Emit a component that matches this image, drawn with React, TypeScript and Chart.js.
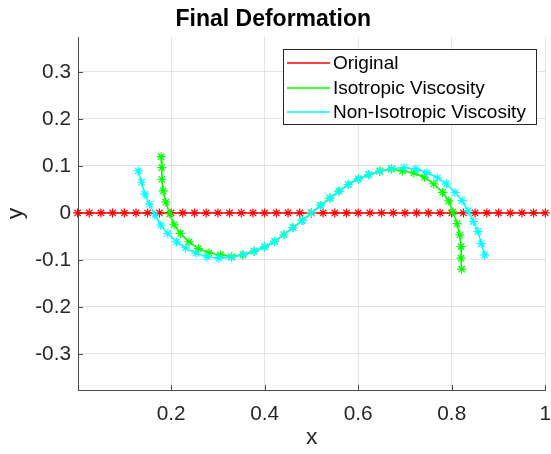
import React, { useEffect, useRef } from "react";
import { Chart, registerables } from "chart.js";

Chart.register(...registerables);

const FONT = '"Liberation Sans", Arial, Helvetica, sans-serif';
const AXIS_COLOR = "#4d4d4d";
const TEXT_COLOR = "#262626";
const GRID_COLOR = "rgba(38,38,38,0.13)";

const TITLE = "Final Deformation";
const X_LABEL = "x";
const Y_LABEL = "y";

const SERIES_LABELS = ["Original", "Isotropic Viscosity", "Non-Isotropic Viscosity"];
const SERIES_COLORS = ["#ff0000", "#00ff00", "#00ffff"];

const ORIGINAL_X = [
  0, 0.025, 0.05, 0.075, 0.1, 0.125, 0.15, 0.175, 0.2, 0.225, 0.25, 0.275, 0.3, 0.325,
  0.35, 0.375, 0.4, 0.425, 0.45, 0.475, 0.5, 0.525, 0.55, 0.575, 0.6, 0.625, 0.65, 0.675,
  0.7, 0.725, 0.75, 0.775, 0.8, 0.825, 0.85, 0.875, 0.9, 0.925, 0.95, 0.975, 1,
];
const ORIGINAL_Y = [
  0, 0, 0, 0, 0, 0, 0, 0, 0, 0, 0, 0, 0, 0, 0, 0, 0, 0, 0, 0, 0,
  0, 0, 0, 0, 0, 0, 0, 0, 0, 0, 0, 0, 0, 0, 0, 0, 0, 0, 0, 0,
];

const ISO_X = [
  0.1787, 0.1802, 0.1802, 0.1829, 0.1887, 0.1972, 0.2064, 0.2196, 0.2384, 0.2584, 0.281,
  0.3053, 0.3294, 0.3535, 0.3774, 0.3998, 0.4211, 0.441, 0.4605, 0.4803, 0.5, 0.5197,
  0.5395, 0.559, 0.5789, 0.6002, 0.6226, 0.6465, 0.6706, 0.6947, 0.719, 0.7416, 0.7616,
  0.7804, 0.7936, 0.8028, 0.8113, 0.8171, 0.8198, 0.8198, 0.8213,
];
const ISO_Y = [
  0.1198, 0.0964, 0.0717, 0.0468, 0.0228, -0.002, -0.0255, -0.0436, -0.0617, -0.076, -0.0851,
  -0.0894, -0.093, -0.0894, -0.0815, -0.0723, -0.0605, -0.0465, -0.0315, -0.016, 0, 0.016,
  0.0315, 0.0465, 0.0605, 0.0723, 0.0815, 0.0894, 0.093, 0.0894, 0.0851, 0.076, 0.0617,
  0.0436, 0.0255, 0.002, -0.0228, -0.0468, -0.0717, -0.0964, -0.1198,
];

const NONISO_X = [
  0.1296, 0.1369, 0.1439, 0.1539, 0.1652, 0.178, 0.193, 0.2115, 0.2307, 0.2527, 0.2768,
  0.3023, 0.3288, 0.3544, 0.3774, 0.3998, 0.4211, 0.441, 0.4605, 0.4803, 0.5, 0.5197,
  0.5395, 0.559, 0.5789, 0.6002, 0.6226, 0.6456, 0.6712, 0.6977, 0.7232, 0.7473, 0.7693,
  0.7885, 0.807, 0.822, 0.8348, 0.8461, 0.8561, 0.8631, 0.8704,
];
const NONISO_Y = [
  0.0894, 0.0653, 0.0398, 0.0185, -0.0043, -0.0262, -0.0436, -0.0617, -0.0745, -0.0857,
  -0.0936, -0.0964, -0.0943, -0.0887, -0.0815, -0.0723, -0.0605, -0.0465, -0.0315, -0.016,
  0, 0.016, 0.0315, 0.0465, 0.0605, 0.0723, 0.0815, 0.0887, 0.0943, 0.0964, 0.0936, 0.0857,
  0.0745, 0.0617, 0.0436, 0.0262, 0.0043, -0.0185, -0.0398, -0.0653, -0.0894,
];

const X_TICKS = [0.2, 0.4, 0.6, 0.8, 1];
const X_TICK_LABELS = ["0.2", "0.4", "0.6", "0.8", "1"];
const Y_TICKS = [-0.3, -0.2, -0.1, 0, 0.1, 0.2, 0.3];
const Y_TICK_LABELS = ["-0.3", "-0.2", "-0.1", "0", "0.1", "0.2", "0.3"];

const X_MIN = 0.001;
const X_MAX = 1;
const Y_MIN = -0.377;
const Y_MAX = 0.3745;

const toPoints = (xs: number[], ys: number[]) => xs.map((x, i) => ({ x, y: ys[i] }));

const innerTicksPlugin = {
  id: "innerTicks",
  beforeDatasetsDraw(chart: any) {
    const { ctx, chartArea, scales } = chart;
    ctx.save();
    ctx.strokeStyle = AXIS_COLOR;
    ctx.lineWidth = 1;
    scales.x.ticks.forEach((t: any) => {
      const px = Math.round(scales.x.getPixelForValue(t.value)) + 0.5;
      ctx.beginPath();
      ctx.moveTo(px, chartArea.bottom);
      ctx.lineTo(px, chartArea.bottom - 5);
      ctx.stroke();
    });
    scales.y.ticks.forEach((t: any) => {
      const py = Math.round(scales.y.getPixelForValue(t.value)) + 0.5;
      ctx.beginPath();
      ctx.moveTo(chartArea.left, py);
      ctx.lineTo(chartArea.left + 5, py);
      ctx.stroke();
    });
    ctx.restore();
  },
};

const boxLegendPlugin = {
  id: "boxLegend",
  afterDraw(chart: any) {
    const ctx = chart.ctx;
    const left = 283;
    const top = 49;
    const right = 537;
    const bottom = 125;
    const rows = [63, 87.5, 111.5];
    ctx.save();
    ctx.fillStyle = "#ffffff";
    ctx.fillRect(left, top, right - left, bottom - top);
    ctx.strokeStyle = TEXT_COLOR;
    ctx.lineWidth = 1;
    ctx.strokeRect(left + 0.5, top + 0.5, right - left - 1, bottom - top - 1);
    ctx.font = `19px ${FONT}`;
    ctx.textBaseline = "middle";
    ctx.textAlign = "left";
    chart.data.datasets.forEach((ds: any, i: number) => {
      ctx.strokeStyle = SERIES_COLORS[i];
      ctx.lineWidth = 1.3;
      ctx.beginPath();
      ctx.moveTo(287, Math.round(rows[i]));
      ctx.lineTo(330, Math.round(rows[i]));
      ctx.stroke();
      ctx.fillStyle = "#000000";
      ctx.fillText(ds.label, 333, rows[i] + 1);
    });
    ctx.restore();
  },
};

export default function App() {
  const canvasRef = useRef<HTMLCanvasElement | null>(null);

  useEffect(() => {
    document.body.style.margin = "0";
    const canvas = canvasRef.current;
    if (!canvas) return;
    const series = [
      toPoints(ORIGINAL_X, ORIGINAL_Y),
      toPoints(ISO_X, ISO_Y),
      toPoints(NONISO_X, NONISO_Y),
    ];
    const chart = new Chart(canvas, {
      type: "scatter",
      data: {
        datasets: series.map((pts, i) => ({
          label: SERIES_LABELS[i],
          data: pts,
          showLine: true,
          borderColor: SERIES_COLORS[i],
          backgroundColor: SERIES_COLORS[i],
          borderWidth: 1.5,
          pointStyle: "star",
          pointRadius: 4.5,
          pointBorderWidth: 1.2,
          pointBorderColor: SERIES_COLORS[i],
          pointBackgroundColor: SERIES_COLORS[i],
          tension: 0,
          clip: false as any,
          order: 3 - i,
        })),
      },
      options: {
        animation: false,
        responsive: false,
        devicePixelRatio: 1,
        layout: { padding: { left: 0, right: 4.5, top: 0, bottom: 0 } },
        plugins: {
          legend: { display: false },
          tooltip: { enabled: false },
          title: {
            display: true,
            text: TITLE,
            color: "#000000",
            font: { family: FONT, size: 23, weight: "bold" },
            padding: { top: 6, bottom: 3.4 },
          },
        },
        scales: {
          x: {
            type: "linear",
            min: X_MIN,
            max: X_MAX,
            afterBuildTicks: (scale: any) => {
              scale.ticks = X_TICKS.map((v) => ({ value: v }));
            },
            afterFit: (scale: any) => {
              scale.height = 64;
              scale.paddingLeft = 0;
              scale.paddingRight = 0;
            },
            ticks: {
              autoSkip: false,
              maxRotation: 0,
              minRotation: 0,
              padding: 11.5,
              color: TEXT_COLOR,
              font: { family: FONT, size: 20.8 },
              callback: (_v: any, i: number) => X_TICK_LABELS[i],
            },
            grid: { color: GRID_COLOR, drawTicks: false, lineWidth: 1 },
            border: { display: true, color: AXIS_COLOR, width: 1 },
            title: {
              display: true,
              text: X_LABEL,
              color: TEXT_COLOR,
              font: { family: FONT, size: 22.9 },
              padding: { top: 0, bottom: 3 },
            },
          },
          y: {
            type: "linear",
            min: Y_MIN,
            max: Y_MAX,
            afterBuildTicks: (scale: any) => {
              scale.ticks = Y_TICKS.map((v) => ({ value: v }));
            },
            afterFit: (scale: any) => {
              scale.width = 78;
              scale.paddingTop = 0;
              scale.paddingBottom = 0;
            },
            ticks: {
              autoSkip: false,
              padding: 7,
              color: TEXT_COLOR,
              font: { family: FONT, size: 20.8 },
              callback: (_v: any, i: number) => Y_TICK_LABELS[i],
            },
            grid: { color: GRID_COLOR, drawTicks: false, lineWidth: 1 },
            border: { display: true, color: AXIS_COLOR, width: 1 },
            title: {
              display: true,
              text: Y_LABEL,
              color: TEXT_COLOR,
              font: { family: FONT, size: 22.9 },
              padding: { top: 2, bottom: 0 },
            },
          },
        },
      },
      plugins: [innerTicksPlugin, boxLegendPlugin],
    });
    return () => chart.destroy();
  }, []);

  return (
    <div style={{ width: 551, height: 454 }}>
      <canvas ref={canvasRef} width={551} height={454} style={{ display: "block" }} />
    </div>
  );
}
